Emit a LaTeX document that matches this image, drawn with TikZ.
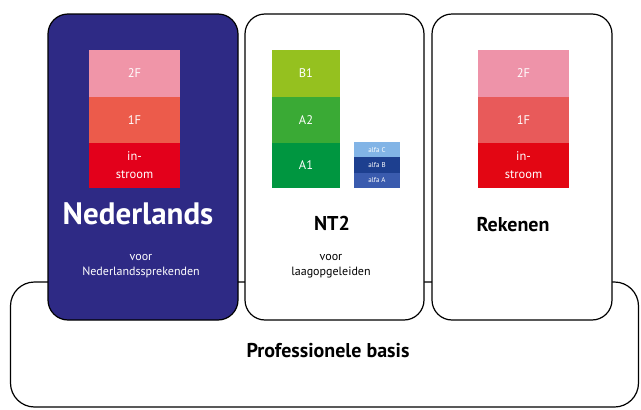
\documentclass[tikz,border=0pt]{standalone}
\usepackage{fontspec}
\setmainfont{PT Sans}
\begin{document}
\begin{tikzpicture}[x=1pt,y=-1pt,
  panel/.style={draw=black,line width=1.2pt,rounded corners=20pt,inner sep=0pt},
  seg/.style={inner sep=0pt,text=white,font=\fontsize{12.5}{18}\selectfont,align=center},
  aseg/.style={inner sep=0pt,text=white,font=\fontsize{7}{8}\selectfont,minimum width=46pt,minimum height=15.3pt},
  small/.style={inner sep=0pt,font=\fontsize{12}{15.5}\selectfont,align=center},
  title/.style={inner sep=0pt,anchor=base,font=\bfseries\fontsize{20}{22}\selectfont}]
\useasboundingbox (0,0) rectangle (641,410);
\definecolor{navy}{HTML}{2E2A85}
\definecolor{pinkF}{HTML}{F095A8}
\definecolor{salmonF}{HTML}{EC5B4B}
\definecolor{redF}{HTML}{E3001B}
\definecolor{pinkR}{HTML}{EE93A9}
\definecolor{salmonR}{HTML}{E85A5A}
\definecolor{redR}{HTML}{E30613}
\definecolor{lime}{HTML}{95C11F}
\definecolor{midgreen}{HTML}{3AAA35}
\definecolor{darkgreen}{HTML}{009640}
\definecolor{alfaC}{HTML}{82B4E6}
\definecolor{alfaB}{HTML}{1D3F8F}
\definecolor{alfaA}{HTML}{3A5BAE}
% bottom base
\node[panel,rounded corners=24pt,minimum width=628pt,minimum height=125pt] (base) at (324.5,344.5) {};
\node[title] (basis) at (328,357) {Professionele basis};
% panels
\node[panel,fill=navy,minimum width=190pt,minimum height=306pt] (ned) at (143,167) {};
\node[panel,fill=white,minimum width=179pt,minimum height=306pt] (nt2) at (334.5,167) {};
\node[panel,fill=white,minimum width=180pt,minimum height=306pt] (rek) at (522,167) {};
% Nederlands stack
\node[seg,fill=pinkF,minimum width=91pt,minimum height=46.5pt] (n2f) at (134.5,73.5) {2F};
\node[seg,fill=salmonF,minimum width=91pt,minimum height=46.5pt] (n1f) at (134.5,120) {1F};
\node[seg,fill=redF,minimum width=91pt,minimum height=45pt] (nin) at (134.5,165.5) {in-\\stroom};
\node[inner sep=0pt,anchor=base,text=white,font=\bfseries\fontsize{31}{33}\selectfont] (nedt) at (138,224) {Nederlands};
\node[small,text=white] (nedv) at (141,266) {voor\\Nederlandssprekenden};
% NT2 stack
\node[seg,fill=lime,minimum width=68pt,minimum height=46.5pt] (b1) at (306,73.5) {B1};
\node[seg,fill=midgreen,minimum width=68pt,minimum height=46.5pt] (a2) at (306,120) {A2};
\node[seg,fill=darkgreen,minimum width=68pt,minimum height=45pt] (a1) at (306,165.5) {A1};
\node[aseg,fill=alfaC] (ac) at (377,149.7) {alfa C};
\node[aseg,fill=alfaB] (ab) at (377,165) {alfa B};
\node[aseg,fill=alfaA] (aa) at (377,180.3) {alfa A};
\node[title] (nt2t) at (332,230) {NT2};
\node[small] (nt2v) at (331,266) {voor\\laagopgeleiden};
% Rekenen stack
\node[seg,fill=pinkR,minimum width=91pt,minimum height=46.5pt] (r2f) at (523.5,73.5) {2F};
\node[seg,fill=salmonR,minimum width=91pt,minimum height=46.5pt] (r1f) at (523.5,120) {1F};
\node[seg,fill=redR,minimum width=91pt,minimum height=45pt] (rin) at (523.5,165.5) {in-\\stroom};
\node[title] (rekt) at (513,231) {Rekenen};
\end{tikzpicture}
\end{document}
